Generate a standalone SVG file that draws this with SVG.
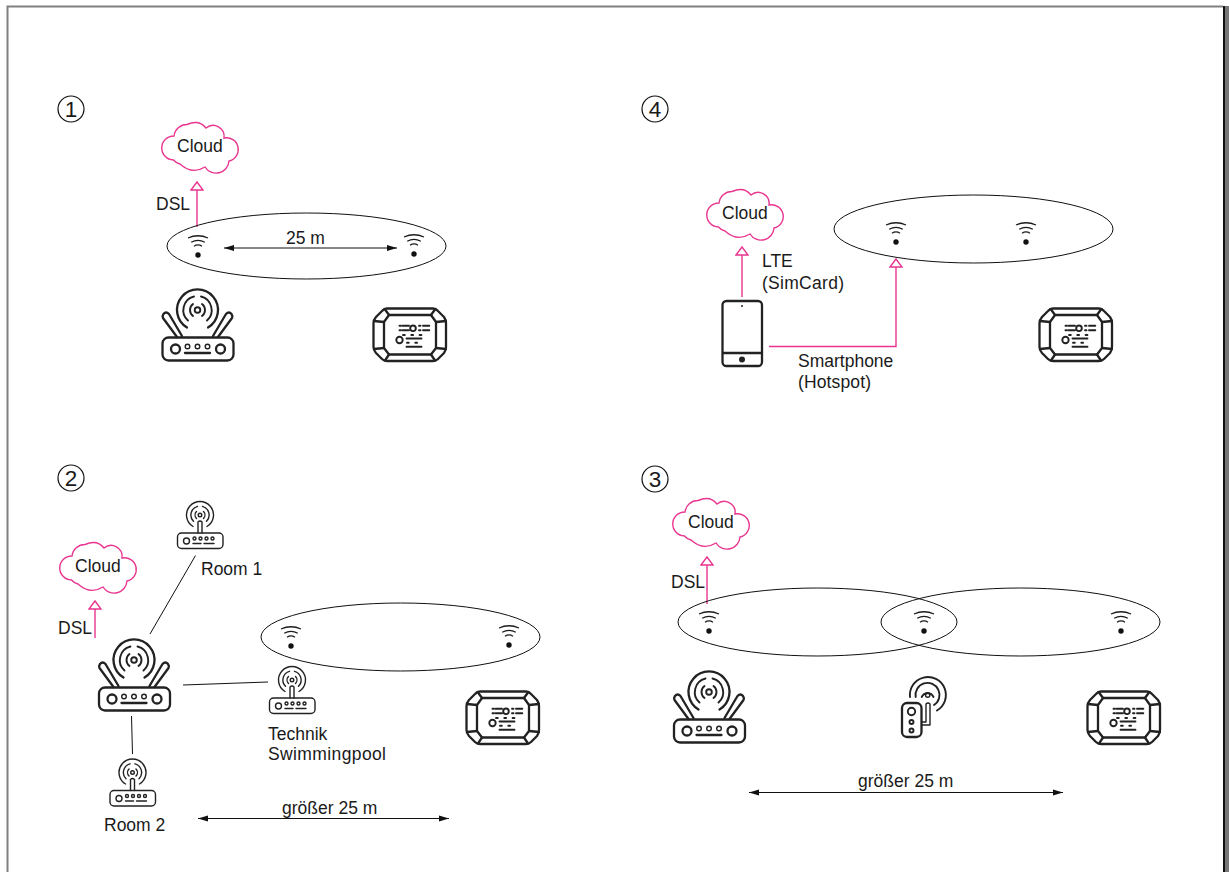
<svg xmlns="http://www.w3.org/2000/svg" width="1229" height="872" viewBox="0 0 1229 872">
<style>
text{font-family:"Liberation Sans",Arial,sans-serif;font-size:17.5px;fill:#1a1a1a}
.num{font-size:22.5px;text-anchor:middle}
.ln{fill:none;stroke:#1a1a1a;stroke-width:1.25}
.ic{fill:none;stroke:#222;stroke-width:2.3;stroke-linecap:round;stroke-linejoin:round}
.im{fill:none;stroke:#222;stroke-width:1.9;stroke-linecap:round;stroke-linejoin:round}
.ics{fill:none;stroke:#222;stroke-width:1.4;stroke-linecap:round;stroke-linejoin:round}
.pk{fill:none;stroke:#e9358f;stroke-width:1.4}
.cl{fill:#fff;stroke:#e9358f;stroke-width:1.4}
.el{fill:none;stroke:#111;stroke-width:1}
.no{fill:none;stroke:#111;stroke-width:1}
.nc{fill:none;stroke:#111;stroke-width:1.2}
</style>
<defs>
<marker id="hp" markerUnits="userSpaceOnUse" viewBox="0 0 14 14" refX="9" refY="7" markerWidth="14" markerHeight="14" orient="auto"><path d="M1 1 L9 7 L1 13 Z" fill="#fff" stroke="#e9358f" stroke-width="1.4"/></marker>
<marker id="hb" markerUnits="userSpaceOnUse" viewBox="0 0 10 8" refX="10" refY="4" markerWidth="10" markerHeight="8" orient="auto"><path d="M0 1 L10 4 L0 7 Z" fill="#111"/></marker>
<marker id="hbs" markerUnits="userSpaceOnUse" viewBox="0 0 10 8" refX="0" refY="4" markerWidth="10" markerHeight="8" orient="auto"><path d="M10 1 L0 4 L10 7 Z" fill="#111"/></marker>
<g id="wifi"><circle cx="0" cy="0" r="2.7" fill="#111"/><path class="ln" d="M-10 -17 Q0 -21.500 10 -17 M-6.800 -12.800 Q0 -16.500 6.800 -12.800 M-4 -8.800 Q0 -11.500 4 -8.800"/></g>
<path id="cloud" class="cl" d="M173.500 160 A12 12 0 0 1 174 136 A13 13 0 0 1 187 124.500 Q199 119 206 128 A11 11 0 0 1 224 138 A11.500 11.500 0 0 1 229 161 A13 13 0 0 1 205 167 Q192 175 180 164 Q176 163 173.500 160 Z"/>
<g id="router"><rect class="ic" x="162.500" y="337.500" width="71" height="23" rx="6"/><circle class="ic" cx="175.500" cy="349" r="4.500"/><circle class="ic" cx="220.500" cy="349" r="4.500"/><circle class="ics" cx="187.500" cy="346.500" r="2.300"/><circle class="ics" cx="197.500" cy="346.500" r="2.300"/><circle class="ics" cx="207.500" cy="346.500" r="2.300"/><path class="ic" d="M185 353 H210"/><path class="ic" d="M182 336 L169 314 Q166 311 163.500 314 Q162 316 163 318 L177 337 M213 336 L226 314 Q229 311 231.500 314 Q233 316 232 318 L218 337"/><circle class="im" cx="197.500" cy="310" r="2.800"/><path class="im" d="M193 316 A7.500 7.500 0 0 1 193 304 M202 304 A7.500 7.500 0 0 1 202 316 M188 320.500 A14 14 0 0 1 194 296.500 M201 296.500 A14 14 0 0 1 207 320.500"/><path class="ic" d="M187 327.500 A20.500 20.500 0 1 1 208 327.500"/></g>
<g id="srouter"><rect class="ics" x="177.500" y="533" width="45.500" height="15.500" rx="4"/><circle class="ics" cx="186.500" cy="541" r="3"/><circle class="ics" cx="194.500" cy="538.500" r="1.500"/><circle class="ics" cx="200.500" cy="538.500" r="1.500"/><circle class="ics" cx="206.500" cy="538.500" r="1.500"/><circle class="ics" cx="212.500" cy="538.500" r="1.500"/><path class="ics" d="M193 543.500 H201 M204 543.500 H214"/><path class="ics" d="M198 533 V522 Q200 520 202 522 V533"/><circle class="ics" cx="200" cy="515" r="1.800"/><path class="ics" d="M196.500 518.500 A5 5 0 0 1 196.500 511.500 M203.500 511.500 A5 5 0 0 1 203.500 518.500 M193.500 521.300 A9 9 0 0 1 197.500 506.300 M202.500 506.300 A9 9 0 0 1 206.500 521.300 M193 526.500 A13.500 13.500 0 1 1 207 526.500"/></g>
<g id="ctrl"><path class="ic" d="M387 308.500 H433 Q436 308.500 438 311 L444 317 Q446 320 446 323 V347 Q446 350 444 353 L438 359 Q436 361 433 361 H387 Q384 361 382 359 L376 353 Q373.500 350 373.500 347 V323 Q373.500 320 376 317 L382 311 Q384 308.500 387 308.500 Z"/><path class="ic" d="M389 315 H431 L436 322 V348 L431 354.500 H389 L384 348 V322 Z"/><path class="ic" d="M385 309.500 L389 315 M435 309.500 L431 315 M446 321 L436 322 M374 321 L384 322 M374 349 L384 348 M446 349 L436 348 M385 360.500 L389 354.500 M435 360.500 L431 354.500"/><circle class="im" cx="413" cy="328.300" r="2.800"/><circle class="im" cx="399.500" cy="340" r="3.200"/><path class="im" d="M402.500 325.700 H409 M402.500 330.300 H409 M423 325.700 H429.300 M423 330.300 H429.300 M406.500 338.500 H421.500 M406.500 346.800 H421.500"/><path class="im" stroke-dasharray="1.500 2.500" d="M399.500 325.700 H401 M399.500 330.300 H401 M419 325.700 H421 M419 330.300 H421"/><path class="im" stroke-linecap="butt" stroke-dasharray="1.800 6.500" d="M403 335 H422 M407 342.700 H422"/></g>
</defs>

<g id="frame"><path d="M7.500 872 V6.500 H1223" fill="none" stroke="#808080" stroke-width="2"/><rect x="1223" y="6" width="2" height="866" fill="#111"/><rect x="1225" y="6" width="4" height="866" fill="#777"/></g>

<g id="connectors">
<path class="pk" marker-end="url(#hp)" d="M197 227 V182"/>
<path class="pk" marker-end="url(#hp)" d="M95 638 V601"/>
<path class="pk" marker-end="url(#hp)" d="M707 604 V557"/>
<path class="pk" marker-end="url(#hp)" d="M742 297 V247"/>
<path class="pk" marker-end="url(#hp)" d="M769 346.500 H896 V259"/>
<path class="no" marker-start="url(#hbs)" marker-end="url(#hb)" d="M224 248 H397"/>
<path class="no" marker-start="url(#hbs)" marker-end="url(#hb)" d="M198 818.500 H449"/>
<path class="no" marker-start="url(#hbs)" marker-end="url(#hb)" d="M749 792.500 H1063"/>
<path class="no" d="M150 634 L195.500 555.500 M183 685 L268 682 M131.500 716 L132.500 754"/>
</g>

<g id="area1">
<ellipse class="el" cx="306.500" cy="246" rx="139.500" ry="33"/>
<use href="#wifi" x="198" y="255"/><use href="#wifi" x="414" y="254"/>
</g>
<g id="area4"><ellipse class="el" cx="973.500" cy="229" rx="139.500" ry="34"/><use href="#wifi" x="896" y="242"/><use href="#wifi" x="1026" y="242"/></g>
<g id="area2"><ellipse class="el" cx="400.500" cy="637" rx="139.500" ry="34"/><use href="#wifi" x="291" y="646"/><use href="#wifi" x="509" y="645"/></g>
<g id="area3"><ellipse class="el" cx="817.500" cy="622" rx="139.500" ry="34"/><ellipse class="el" cx="1020.500" cy="622" rx="139.500" ry="34"/><use href="#wifi" x="709" y="631"/><use href="#wifi" x="924" y="631"/><use href="#wifi" x="1121" y="631"/></g>

<g id="cloud1"><use href="#cloud"/><text x="177" y="152">Cloud</text></g>
<g id="cloud4"><use href="#cloud" x="545" y="67"/><text x="722" y="219">Cloud</text></g>
<g id="cloud2"><use href="#cloud" x="-102" y="420"/><text x="75" y="572">Cloud</text></g>
<g id="cloud3"><use href="#cloud" x="511" y="376"/><text x="688" y="528">Cloud</text></g>

<g id="router1"><use href="#router"/></g>
<g id="router2"><use href="#router" x="-63.500" y="350"/></g>
<g id="router3"><use href="#router" x="511.500" y="382"/></g>
<g id="room1"><use href="#srouter"/><text x="201" y="575">Room 1</text></g>
<g id="room2"><use href="#srouter" x="-67.500" y="257.500"/><text x="104" y="831">Room 2</text></g>
<g id="technik"><use href="#srouter" x="92" y="165"/><text x="268" y="740">Technik</text><text x="268" y="760" textLength="118">Swimmingpool</text></g>
<g id="ctrl1"><use href="#ctrl"/></g>
<g id="ctrl4"><use href="#ctrl" x="666"/></g>
<g id="ctrl2"><use href="#ctrl" x="93" y="383"/></g>
<g id="ctrl3"><use href="#ctrl" x="714" y="383"/></g>

<g id="phone"><rect class="ic" x="722.500" y="301" width="39.500" height="65" rx="4"/><path class="ic" d="M723 353 H762"/><circle cx="742" cy="359.500" r="3" fill="#222"/><circle cx="742" cy="306" r="1" fill="#222"/></g>
<g id="repeater"><rect class="ic" x="902" y="703" width="19.500" height="34" rx="5"/><circle class="im" cx="911.500" cy="711.500" r="3.700"/><circle class="im" cx="911.500" cy="722" r="2"/><circle class="im" cx="911.500" cy="730.500" r="2"/><path class="ics" d="M922 725 H930 V704 Q928 702 926 704 V722 H922"/><circle class="ics" cx="927.700" cy="695" r="2.200"/><path class="im" d="M921.700 697 A6.500 6.500 0 0 1 933.500 697 M915.700 697 A12 12 0 1 1 934 705 M910 697 A18 18 0 1 1 937 710.500"/></g>

<g id="labels">
<text x="156" y="210">DSL</text><text x="286" y="244">25 m</text>
<text x="58" y="634">DSL</text><text x="671" y="588">DSL</text>
<text x="762" y="267">LTE</text><text x="762" y="289" textLength="82">(SimCard)</text>
<text x="798" y="367">Smartphone</text><text x="798" y="388" textLength="73">(Hotspot)</text>
<text x="282" y="814">größer 25 m</text><text x="858" y="787">größer 25 m</text>
</g>
<g id="marks">
<g id="n1"><circle class="nc" cx="71" cy="109" r="13"/><text class="num" x="71" y="117">1</text></g>
<g id="n4"><circle class="nc" cx="655" cy="109" r="13"/><text class="num" x="655" y="117">4</text></g>
<g id="n2"><circle class="nc" cx="71" cy="478" r="13"/><text class="num" x="71" y="486">2</text></g>
<g id="n3"><circle class="nc" cx="655" cy="479" r="13"/><text class="num" x="655" y="487">3</text></g>
</g>
</svg>
